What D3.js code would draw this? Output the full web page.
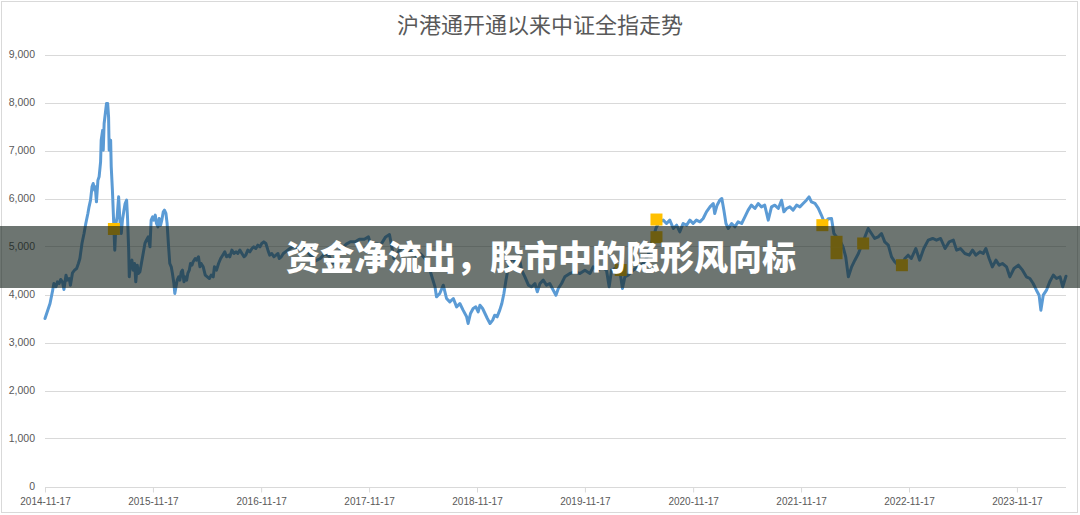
<!DOCTYPE html>
<html><head><meta charset="utf-8">
<script src="https://cdn.jsdelivr.net/npm/d3@7"></script>
<style>
html,body{margin:0;padding:0;background:#fff;}
svg{display:block;}
</style></head>
<body>
<svg id="c" width="1080" height="515"></svg>
<script>
const title = "沪港通开通以来中证全指走势";
const bannerText = "资金净流出，股市中的隐形风向标";
const yTicks = [0,1000,2000,3000,4000,5000,6000,7000,8000,9000];
const xTickLabels = ["2014-11-17","2015-11-17","2016-11-17","2017-11-17","2018-11-17","2019-11-17","2020-11-17","2021-11-17","2022-11-17","2023-11-17"];
const xDomain = ["2014-11-17","2024-05-01"];

const dates = [
"2014-11-17","2014-12-04","2014-12-13","2014-12-17","2014-12-24","2014-12-29","2015-01-04","2015-01-09","2015-01-15","2015-01-20",
"2015-01-27","2015-01-31","2015-02-07","2015-02-11","2015-02-18","2015-02-25","2015-03-04","2015-03-10","2015-03-15","2015-03-22",
"2015-03-29","2015-04-04","2015-04-11","2015-04-15","2015-04-20","2015-04-25","2015-04-29","2015-05-04","2015-05-06","2015-05-10",
"2015-05-15","2015-05-19","2015-05-24","2015-05-26","2015-05-31","2015-06-02","2015-06-05","2015-06-09","2015-06-13","2015-06-17",
"2015-06-20","2015-06-22","2015-06-27","2015-06-29","2015-07-03","2015-07-07","2015-07-11","2015-07-15","2015-07-19","2015-07-24",
"2015-07-29","2015-08-02","2015-08-06","2015-08-11","2015-08-15","2015-08-20","2015-08-23","2015-08-27","2015-08-29","2015-09-02",
"2015-09-07","2015-09-11","2015-09-16","2015-09-20","2015-09-25","2015-09-29","2015-10-04","2015-10-09","2015-10-15","2015-10-21",
"2015-10-26","2015-11-01","2015-11-07","2015-11-11","2015-11-16","2015-11-20","2015-11-25","2015-11-29","2015-12-04","2015-12-08",
"2015-12-13","2015-12-17","2015-12-22","2015-12-26","2015-12-31","2016-01-04","2016-01-09","2016-01-13","2016-01-18","2016-01-22",
"2016-01-27","2016-01-30","2016-02-03","2016-02-07","2016-02-12","2016-02-16","2016-02-21","2016-02-25","2016-03-01","2016-03-05",
"2016-03-10","2016-03-14","2016-03-19","2016-03-23","2016-03-28","2016-04-01","2016-04-08","2016-04-12","2016-04-19","2016-04-24",
"2016-04-28","2016-05-05","2016-05-12","2016-05-19","2016-05-26","2016-06-01","2016-06-08","2016-06-12","2016-06-19","2016-06-26",
"2016-07-03","2016-07-10","2016-07-17","2016-07-23","2016-07-30","2016-08-03","2016-08-10","2016-08-17","2016-08-24","2016-08-30",
"2016-09-06","2016-09-13","2016-09-20","2016-09-26","2016-10-03","2016-10-10","2016-10-17","2016-10-23","2016-10-30","2016-11-06",
"2016-11-13","2016-11-19","2016-11-26","2016-12-03","2016-12-10","2016-12-16","2016-12-23","2016-12-30","2017-01-06","2017-01-13",
"2017-01-17","2017-01-24","2017-01-31","2017-02-07","2017-02-20","2017-03-06","2017-03-20","2017-04-05","2017-04-20","2017-05-05",
"2017-05-20","2017-06-05","2017-06-20","2017-07-05","2017-07-17","2017-08-01","2017-08-15","2017-09-01","2017-09-15","2017-10-01",
"2017-10-15","2017-11-01","2017-11-15","2017-11-24","2017-12-10","2017-12-28","2018-01-12","2018-01-25","2018-02-09","2018-02-25",
"2018-03-12","2018-03-25","2018-04-10","2018-04-25","2018-05-10","2018-05-25","2018-06-05","2018-06-16","2018-06-28","2018-07-03",
"2018-07-14","2018-07-26","2018-08-06","2018-08-17","2018-08-29","2018-09-09","2018-09-20","2018-10-01","2018-10-13","2018-10-18",
"2018-10-26","2018-11-04","2018-11-13","2018-11-21","2018-11-27","2018-12-06","2018-12-14","2018-12-22","2018-12-31","2019-01-09",
"2019-01-16","2019-01-24","2019-02-02","2019-02-09","2019-02-16","2019-02-23","2019-03-01","2019-03-08","2019-03-15","2019-03-22",
"2019-03-29","2019-04-04","2019-04-08","2019-04-17","2019-04-28","2019-05-10","2019-05-21","2019-06-01","2019-06-09","2019-06-18",
"2019-06-29","2019-07-10","2019-07-21","2019-08-02","2019-08-11","2019-08-19","2019-08-30","2019-09-10","2019-09-27","2019-10-14",
"2019-10-31","2019-11-17","2019-12-04","2019-12-15","2020-01-01","2020-01-12","2020-01-29","2020-02-07","2020-02-15","2020-02-26",
"2020-03-14","2020-03-23","2020-03-31","2020-04-11","2020-04-28","2020-05-15","2020-06-01","2020-06-18","2020-07-05","2020-07-16",
"2020-07-27","2020-08-08","2020-08-19","2020-08-30","2020-09-11","2020-09-22","2020-10-03","2020-10-14","2020-10-26","2020-11-06",
"2020-11-17","2020-11-28","2020-12-10","2020-12-21","2021-01-01","2021-01-13","2021-01-24","2021-01-29","2021-02-06","2021-02-15",
"2021-02-22","2021-03-01","2021-03-08","2021-03-16","2021-03-27","2021-04-07","2021-04-18","2021-04-30","2021-05-11","2021-05-22",
"2021-06-02","2021-06-14","2021-06-25","2021-07-06","2021-07-17","2021-07-29","2021-08-09","2021-08-20","2021-09-01","2021-09-12",
"2021-09-20","2021-09-29","2021-10-10","2021-10-21","2021-11-02","2021-11-13","2021-11-24","2021-12-05","2021-12-14","2021-12-22",
"2022-01-03","2022-01-14","2022-01-25","2022-02-05","2022-02-17","2022-02-28","2022-03-08","2022-03-17","2022-03-28","2022-04-08",
"2022-04-17","2022-04-26","2022-05-07","2022-05-18","2022-05-30","2022-06-10","2022-06-21","2022-07-02","2022-07-13","2022-07-24",
"2022-08-05","2022-08-16","2022-08-27","2022-09-08","2022-09-19","2022-09-30","2022-10-11","2022-10-23","2022-11-03","2022-11-14",
"2022-11-25","2022-12-10","2022-12-23","2023-01-06","2023-01-21","2023-02-05","2023-02-18","2023-03-04","2023-03-19","2023-04-02",
"2023-04-16","2023-04-27","2023-05-10","2023-05-25","2023-06-09","2023-06-20","2023-07-01","2023-07-15","2023-07-26","2023-08-04",
"2023-08-15","2023-08-26","2023-09-07","2023-09-18","2023-09-29","2023-10-13","2023-10-24","2023-11-07","2023-11-22","2023-12-06",
"2023-12-19","2023-12-31","2024-01-11","2024-01-22","2024-01-31","2024-02-06","2024-02-14","2024-02-25","2024-03-07","2024-03-19",
"2024-03-30","2024-04-11","2024-04-20","2024-05-01"
];
const values = [
3500,3812,4090,4229,4160,4264,4229,4312,4264,4104,
4403,4299,4333,4194,4451,4507,4542,4646,4750,5063,
5271,5479,5688,5826,5965,6243,6313,6174,6243,5931,
6382,6451,6764,7215,7424,7007,7563,7771,7979,7979,
7701,7007,7215,6660,6174,5549,4924,5479,5618,6035,
5479,5271,5549,5757,5896,5965,5618,4924,4368,4646,
4715,4507,4646,4264,4611,4438,4472,4646,4854,5063,
5132,5201,4993,5549,5618,5549,5653,5479,5410,5583,
5444,5549,5722,5757,5688,5479,4993,4646,4576,4438,
4229,4021,4160,4299,4368,4299,4472,4507,4264,4368,
4299,4438,4507,4646,4611,4681,4750,4715,4785,4576,
4646,4576,4403,4368,4333,4403,4368,4576,4507,4646,
4750,4819,4889,4785,4819,4785,4924,4854,4889,4854,
4924,4854,4785,4819,4924,4889,4958,4993,4958,5028,
4993,5063,5097,5063,4924,4819,4854,4785,4819,4854,
4750,4785,4854,4889,4950,5000,4950,5050,4900,4800,
4700,4750,4850,4800,4650,4850,4950,5050,5100,5100,
5150,5150,5200,5000,5050,5050,5200,5250,4750,4900,
5000,4850,4900,4800,4850,4750,4650,4400,4160,3951,
4021,4194,3917,3847,3917,3743,3813,3674,3535,3396,
3604,3708,3743,3639,3778,3708,3604,3500,3396,3465,
3569,3535,3674,3813,4021,4299,4507,4646,4750,4715,
4646,4771,4800,4507,4368,4194,4160,4229,4056,4229,
4299,4194,4229,4090,3986,4125,4229,4368,4438,4472,
4438,4507,4438,4576,4507,4576,4507,4160,4507,4542,
4507,4125,4368,4403,4507,4576,4646,4819,5201,5410,
5514,5549,5479,5549,5375,5444,5306,5479,5444,5549,
5479,5549,5514,5583,5722,5826,5896,5688,5861,5965,
6000,5757,5479,5375,5479,5410,5514,5479,5618,5757,
5861,5792,5896,5826,5861,5549,5826,5861,5792,5965,
5722,5792,5826,5757,5861,5826,5896,5965,6035,5931,
5900,5800,5650,5480,5580,5583,5271,5201,5132,4993,
4785,4368,4576,4715,4854,5028,5201,5375,5271,5167,
5201,5271,5097,5028,4785,4681,4611,4576,4750,4819,
4750,4958,4715,4958,5132,5167,5132,5167,4958,5097,
5132,4924,4958,4854,4819,4924,4819,4889,4854,4958,
4750,4576,4715,4611,4646,4576,4368,4542,4611,4507,
4368,4333,4229,4090,3986,3674,3986,4090,4264,4403,
4333,4368,4160,4382
];

const markerDates = ["2015-07-08","2020-03-17","2020-07-16","2020-07-16","2022-01-28","2022-03-17","2022-03-17","2022-06-15","2022-10-24"];
const markerValues = [5365,4510,5562,5194,5444,5098,4860,5063,4610];

(function(){
const parse = d3.timeParse("%Y-%m-%d");
const svg = d3.select("#c");
const W = 1080, H = 515;
const mLeft = 45, mRight = 1066, mTop = 54.5, mBottom = 486.5;

const x = d3.scaleTime().domain(xDomain.map(parse)).range([mLeft, mRight]);
const y = d3.scaleLinear().domain([0, 9000]).range([mBottom, mTop]);

// chart border
svg.append("rect").attr("x",1.5).attr("y",1.5).attr("width",W-4).attr("height",H-4)
  .attr("fill","#fff").attr("stroke","#d9d9d9").attr("stroke-width",1);

// gridlines
svg.append("g").selectAll("line").data(yTicks).join("line")
  .attr("x1",mLeft).attr("x2",mRight)
  .attr("y1",d=>Math.round(y(d))+0.5).attr("y2",d=>Math.round(y(d))+0.5)
  .attr("stroke","#d9d9d9").attr("stroke-width",1);

// y axis labels
const yAxis = d3.axisLeft(y).tickValues(yTicks).tickFormat(d3.format(",")).tickSize(0).tickPadding(0);
const gy = svg.append("g").attr("transform","translate(35,0)").call(yAxis);
gy.select(".domain").remove();
gy.selectAll("text").attr("fill","#595959").attr("font-size","10.5px")
  .attr("font-family","'Liberation Sans',Arial,sans-serif");

// x axis
const xAxis = d3.axisBottom(x).tickValues(xTickLabels.map(parse)).tickFormat(d3.timeFormat("%Y-%m-%d")).tickSize(5).tickPadding(5);
const gx = svg.append("g").attr("transform",`translate(0,${Math.round(mBottom)+0.5})`).call(xAxis);
gx.select(".domain").remove();
gx.selectAll(".tick line").attr("stroke","#d9d9d9");
gx.selectAll("text").attr("fill","#595959").attr("font-size","10px")
  .attr("font-family","'Liberation Sans',Arial,sans-serif");

// line
const pts = dates.map((d,i)=>({d:parse(d), v:values[i]}));
svg.append("path").datum(pts)
  .attr("d", d3.line().x(p=>x(p.d)).y(p=>y(p.v)))
  .attr("fill","none").attr("stroke","#5b9bd5").attr("stroke-width",3)
  .attr("stroke-linejoin","round").attr("stroke-linecap","round");

// markers
const mk = markerDates.map((d,i)=>({d:parse(d), v:markerValues[i]}));
svg.append("g").selectAll("rect").data(mk).join("rect")
  .attr("x",p=>x(p.d)-6).attr("y",p=>y(p.v)-6)
  .attr("width",12).attr("height",12).attr("fill","#ffc000");

// title
svg.append("text").attr("x",540).attr("y",32.5).attr("text-anchor","middle")
  .attr("font-family","'Noto Sans CJK SC',sans-serif").attr("font-size","22px")
  .attr("fill","#595959").text(title);

// banner overlay
svg.append("rect").attr("x",0).attr("y",226).attr("width",W).attr("height",62)
  .attr("fill","rgb(20,32,26)").attr("fill-opacity",0.62);
svg.append("text").attr("x",541).attr("y",258).attr("dy","0.36em").attr("text-anchor","middle")
  .attr("font-family","'Noto Sans CJK SC',sans-serif").attr("font-size","34px")
  .attr("font-weight",900).attr("fill","#fff").text(bannerText);
})();
</script>
</body></html>
